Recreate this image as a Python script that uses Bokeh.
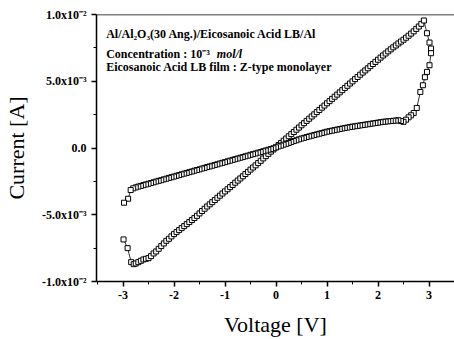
from bokeh.plotting import figure
from bokeh.models import Range1d, FixedTicker, Span, Label, ColumnDataSource
from bokeh.embed import file_html
from bokeh.resources import INLINE

# ---- data (current in units of 1e-3 A) ----
v_start = [-2.99, -2.91, -2.84, -2.79]
i_start = [-6.85, -7.50, -8.55, -8.70]

v_high = [-2.75, -2.70, -2.65, -2.60, -2.55, -2.50, -2.45, -2.40, -2.35, -2.30,
          -2.25, -2.20, -2.15, -2.10, -2.05, -2.00, -1.95, -1.90, -1.85, -1.80,
          -1.75, -1.70, -1.65, -1.60, -1.55, -1.50, -1.45, -1.40, -1.35, -1.30,
          -1.25, -1.20, -1.15, -1.10, -1.05, -1.00, -0.95, -0.90, -0.85, -0.80,
          -0.75, -0.70, -0.65, -0.60, -0.55, -0.50, -0.45, -0.40, -0.35, -0.30,
          -0.25, -0.20, -0.15, -0.10, -0.05, 0.00, 0.05, 0.10, 0.15, 0.20,
          0.25, 0.30, 0.35, 0.40, 0.45, 0.50, 0.55, 0.60, 0.65, 0.70,
          0.75, 0.80, 0.85, 0.90, 0.95, 1.00, 1.05, 1.10, 1.15, 1.20,
          1.25, 1.30, 1.35, 1.40, 1.45, 1.50, 1.55, 1.60, 1.65, 1.70,
          1.75, 1.80, 1.85, 1.90, 1.95, 2.00, 2.05, 2.10, 2.15, 2.20,
          2.25, 2.30, 2.35, 2.40, 2.45, 2.50, 2.55, 2.60, 2.65, 2.70,
          2.75, 2.80, 2.85, 2.90]
i_high = [-8.65, -8.55, -8.45, -8.35, -8.30, -8.25, -8.10, -7.90, -7.75, -7.55,
          -7.35, -7.15, -6.95, -6.80, -6.62, -6.45, -6.30, -6.15, -6.00, -5.85,
          -5.70, -5.55, -5.40, -5.25, -5.08, -4.90, -4.72, -4.55, -4.38, -4.22,
          -4.06, -3.90, -3.73, -3.57, -3.41, -3.25, -3.09, -2.93, -2.77, -2.60,
          -2.44, -2.28, -2.12, -1.95, -1.79, -1.62, -1.46, -1.30, -1.13, -0.96,
          -0.78, -0.61, -0.44, -0.27, -0.11, 0.05, 0.22, 0.38, 0.55, 0.71,
          0.88, 1.04, 1.20, 1.37, 1.53, 1.70, 1.86, 2.03, 2.19, 2.36,
          2.52, 2.69, 2.85, 3.02, 3.18, 3.35, 3.51, 3.68, 3.84, 4.00,
          4.17, 4.33, 4.50, 4.66, 4.83, 4.99, 5.16, 5.32, 5.49, 5.65,
          5.81, 5.97, 6.13, 6.29, 6.45, 6.61, 6.77, 6.93, 7.08, 7.24,
          7.39, 7.54, 7.68, 7.83, 7.97, 8.11, 8.26, 8.41, 8.57, 8.74,
          8.92, 9.10, 9.30, 9.55]

v_right = [2.96, 3.01, 3.04, 3.04, 3.01, 2.96, 2.92, 2.88, 2.83, 2.76]
i_right = [8.60, 7.90, 7.45, 7.10, 6.20, 5.70, 5.30, 4.70, 4.20, 3.00]

v_low = [2.70, 2.65, 2.60, 2.55, 2.50, 2.45, 2.40, 2.35, 2.30, 2.25,
         2.20, 2.15, 2.10, 2.05, 2.00, 1.95, 1.90, 1.85, 1.80, 1.75,
         1.70, 1.65, 1.60, 1.55, 1.50, 1.45, 1.40, 1.35, 1.30, 1.25,
         1.20, 1.15, 1.10, 1.05, 1.00, 0.95, 0.90, 0.85, 0.80, 0.75,
         0.70, 0.65, 0.60, 0.55, 0.50, 0.45, 0.40, 0.35, 0.30, 0.25,
         0.20, 0.15, 0.10, 0.05, 0.00, -0.05, -0.10, -0.15, -0.20, -0.25,
         -0.30, -0.35, -0.40, -0.45, -0.50, -0.55, -0.60, -0.65, -0.70, -0.75,
         -0.80, -0.85, -0.90, -0.95, -1.00, -1.05, -1.10, -1.15, -1.20, -1.25,
         -1.30, -1.35, -1.40, -1.45, -1.50, -1.55, -1.60, -1.65, -1.70, -1.75,
         -1.80, -1.85, -1.90, -1.95, -2.00, -2.05, -2.10, -2.15, -2.20, -2.25,
         -2.30, -2.35, -2.40, -2.45, -2.50, -2.55, -2.60, -2.65, -2.70, -2.75,
         -2.80, -2.85]
i_low = [2.62, 2.45, 2.30, 2.12, 1.96, 2.02, 2.08, 2.05, 2.04, 2.02,
         2.00, 1.98, 1.96, 1.93, 1.90, 1.87, 1.84, 1.81, 1.78, 1.75,
         1.72, 1.69, 1.66, 1.63, 1.60, 1.57, 1.53, 1.50, 1.46, 1.42,
         1.38, 1.34, 1.30, 1.26, 1.22, 1.17, 1.12, 1.07, 1.02, 0.97,
         0.92, 0.87, 0.82, 0.76, 0.71, 0.65, 0.58, 0.52, 0.45, 0.38,
         0.31, 0.25, 0.18, 0.12, 0.05, -0.02, -0.08, -0.13, -0.19, -0.24,
         -0.30, -0.35, -0.41, -0.46, -0.51, -0.57, -0.62, -0.68, -0.73, -0.79,
         -0.84, -0.89, -0.95, -1.00, -1.06, -1.11, -1.16, -1.22, -1.27, -1.33,
         -1.38, -1.43, -1.49, -1.54, -1.60, -1.65, -1.70, -1.76, -1.81, -1.87,
         -1.92, -1.97, -2.03, -2.08, -2.14, -2.19, -2.24, -2.30, -2.35, -2.41,
         -2.46, -2.51, -2.57, -2.62, -2.68, -2.73, -2.78, -2.84, -2.89, -2.95,
         -3.02, -3.15]

v_end = [-2.90, -2.98]
i_end = [-3.80, -4.10]

x_ticks = [-3, -2, -1, 0, 1, 2, 3]
x_tick_labels = ["-3", "-2", "-1", "0", "1", "2", "3"]
x_minor = [-3.5, -2.5, -1.5, -0.5, 0.5, 1.5, 2.5]
y_ticks = [-10, -5, 0, 5, 10]
y_tick_labels = ["-1.0x10\u207b\u00b2", "-5.0x10\u207b\u00b3", "0.0", "5.0x10\u207b\u00b3", "1.0x10\u207b\u00b2"]
y_minor = [-7.5, -2.5, 2.5, 7.5]

notes = ["Al/Al\u2082O\u2083(30 Ang.)/Eicosanoic Acid LB/Al",
         "Concentration : 10\u207b\u00b3",
         "mol/l",
         "Eicosanoic Acid LB film : Z-type monolayer"]

volt = v_start + v_high + v_right + v_low + v_end
curr = i_start + i_high + i_right + i_low + i_end
src = ColumnDataSource(dict(v=volt, i=curr))

FONT = "Liberation Serif"

p = figure(width=454, height=339, output_backend="svg", toolbar_location=None,
           x_range=Range1d(-3.52, 3.50), y_range=Range1d(-10, 10),
           min_border_left=94, min_border_right=0, min_border_top=14, min_border_bottom=55)
p.outline_line_color = None
p.grid.visible = False
p.background_fill_color = "white"

p.line("v", "i", source=src, line_color="black", line_width=0.8)
p.scatter("v", "i", source=src, marker="square", size=5, fill_color="white",
          line_color="black", line_width=1)

p.add_layout(Span(location=10, dimension="width", line_color="black", line_width=1.5))

for ax in (p.xaxis[0], p.yaxis[0]):
    ax.axis_line_width = 1.5
    ax.axis_line_color = "black"
    ax.major_tick_in = 0
    ax.major_tick_out = 5
    ax.minor_tick_in = 0
    ax.minor_tick_out = 3
    ax.major_tick_line_width = 1.5
    ax.major_label_text_font = FONT
    ax.major_label_text_font_style = "bold"
    ax.major_label_text_font_size = "12px"
    ax.major_label_text_color = "black"
    ax.axis_label_text_font = FONT
    ax.axis_label_text_font_style = "normal"
    ax.axis_label_text_font_size = "22px"
    ax.axis_label_text_color = "black"

p.xaxis.ticker = FixedTicker(ticks=x_ticks, minor_ticks=x_minor)
p.xaxis.major_label_overrides = dict(zip(x_ticks, x_tick_labels))
p.xaxis.axis_label = "Voltage [V]"
p.xaxis.major_label_standoff = 4
p.xaxis.axis_label_standoff = 10

p.yaxis.ticker = FixedTicker(ticks=y_ticks, minor_ticks=y_minor)
p.yaxis.major_label_overrides = dict(zip(y_ticks, y_tick_labels))
p.yaxis.axis_label = "Current [A]"
p.yaxis.major_label_standoff = 5
p.yaxis.axis_label_standoff = 10

def note(x, y, t, style="bold"):
    p.add_layout(Label(x=x, y=y, text=t, text_font=FONT, text_font_style=style,
                       text_font_size="12px", text_baseline="middle", text_color="black"))

note(-3.33, 8.54, notes[0])
note(-3.33, 7.06, notes[1])
note(-1.16, 7.06, notes[2], "bold italic")
note(-3.33, 6.10, notes[3])

open("out.html", "w").write(file_html(p, INLINE))
